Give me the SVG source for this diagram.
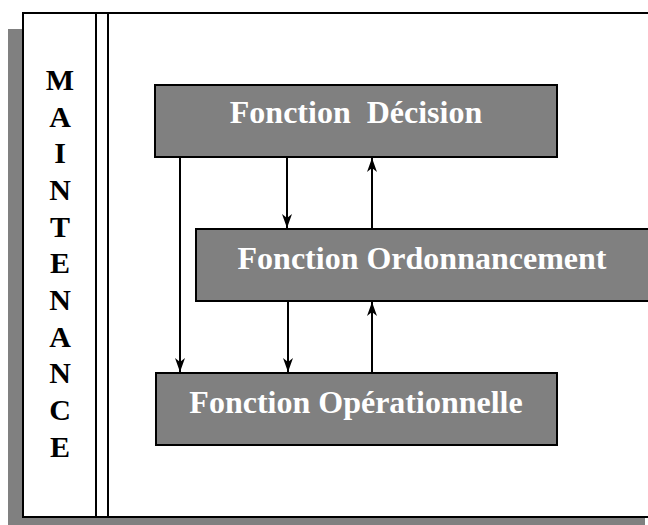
<svg xmlns="http://www.w3.org/2000/svg" width="648" height="525" viewBox="0 0 648 525">
<defs>
<style>
.box{fill:#808080;stroke:#000;stroke-width:2}
.lbl{font-family:"Liberation Serif","Times New Roman",serif;font-weight:bold;font-size:32px;fill:#fff;text-anchor:middle}
.vt{font-family:"Liberation Serif","Times New Roman",serif;font-weight:bold;font-size:30px;fill:#000;text-anchor:middle}
.cn{stroke:#000;stroke-width:2;fill:none;marker-end:url(#ah)}
</style>
<marker id="ah" viewBox="0 0 14 10" refX="14" refY="5" markerWidth="14" markerHeight="10" markerUnits="userSpaceOnUse" orient="auto">
<path d="M0,0 L14,5 L0,10 L4,5 Z" fill="#000"/>
</marker>
</defs>
<g id="frame">
<rect x="8" y="29" width="637" height="496" fill="#808080"/>
<rect x="23" y="13" width="640" height="504" fill="#fff" stroke="#000" stroke-width="2"/>
<line x1="96" y1="13" x2="96" y2="517" stroke="#000" stroke-width="2"/>
<line x1="108" y1="13" x2="108" y2="517" stroke="#000" stroke-width="2"/>
</g>
<g id="maintenance">
<text class="vt" x="60" y="90">M</text>
<text class="vt" x="60" y="127">A</text>
<text class="vt" x="60" y="163">I</text>
<text class="vt" x="60" y="200">N</text>
<text class="vt" x="60" y="237">T</text>
<text class="vt" x="60" y="273">E</text>
<text class="vt" x="60" y="310">N</text>
<text class="vt" x="60" y="347">A</text>
<text class="vt" x="60" y="383">N</text>
<text class="vt" x="60" y="420">C</text>
<text class="vt" x="60" y="457">E</text>
</g>
<g id="connectors">
<line class="cn" x1="180" y1="157" x2="180" y2="372"/>
<line class="cn" x1="287" y1="157" x2="287" y2="228"/>
<line class="cn" x1="372" y1="229" x2="372" y2="158"/>
<line class="cn" x1="288" y1="301" x2="288" y2="372"/>
<line class="cn" x1="372" y1="373" x2="372" y2="302"/>
</g>
<g id="decision">
<rect class="box" x="155" y="85" width="402" height="72"/>
<text class="lbl" x="356" y="123" xml:space="preserve">Fonction  Décision</text>
</g>
<g id="ordonnancement">
<rect class="box" x="196" y="229" width="460" height="72"/>
<text class="lbl" x="422" y="269">Fonction Ordonnancement</text>
</g>
<g id="operationnelle">
<rect class="box" x="156" y="373" width="401" height="72"/>
<text class="lbl" x="356" y="413">Fonction Opérationnelle</text>
</g>
</svg>
